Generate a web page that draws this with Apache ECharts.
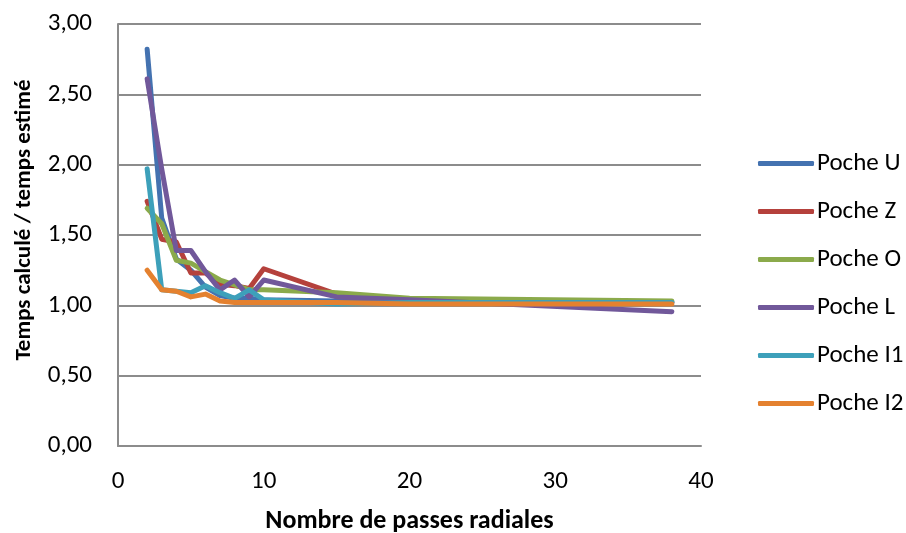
<!DOCTYPE html>
<html>
<head>
<meta charset="utf-8">
<script src="https://cdn.jsdelivr.net/npm/echarts@6/dist/echarts.min.js"></script>
<style>html,body{margin:0;padding:0;background:#fff}#c{width:906px;height:533px}</style>
</head>
<body>
<div id="c"></div>
<script>
const xValues = [2, 3, 4, 5, 6, 7, 8, 9, 10, 15, 20, 38];
const seriesNames = ['Poche U', 'Poche Z', 'Poche O', 'Poche L', 'Poche I1', 'Poche I2'];
const pocheU  = [2.82, 1.62, 1.33, 1.25, 1.13, 1.07, 1.05, 1.05, 1.04, 1.03, 1.03, 1.02];
const pocheZ  = [1.74, 1.47, 1.45, 1.23, 1.23, 1.15, 1.14, 1.12, 1.26, 1.08, 1.04, 1.02];
const pocheO  = [1.69, 1.58, 1.32, 1.30, 1.24, 1.18, 1.145, 1.11, 1.11, 1.09, 1.05, 1.03];
const pocheL  = [2.61, 1.97, 1.39, 1.39, 1.24, 1.11, 1.18, 1.06, 1.18, 1.06, 1.04, 0.955];
const pocheI1 = [1.97, 1.11, 1.10, 1.09, 1.14, 1.09, 1.05, 1.11, 1.04, 1.01, 1.02, 1.02];
const pocheI2 = [1.25, 1.11, 1.10, 1.06, 1.08, 1.03, 1.02, 1.02, 1.02, 1.02, 1.01, 1.01];
const allValues = [pocheU, pocheZ, pocheO, pocheL, pocheI1, pocheI2];
const colors = ['#4472B0', '#B5413C', '#8BAA4B', '#71589A', '#3DA0BA', '#E4812F'];

const font = 'Carlito, Calibri, Lato, "Open Sans", sans-serif';
const chart = echarts.init(document.getElementById('c'), null, {renderer: 'canvas'});
chart.setOption({
  animation: false,
  grid: {left: 118, right: 205, top: 24, bottom: 87, containLabel: false, outerBoundsMode: 'none'},
  legend: {
    orient: 'vertical', left: 753, top: 146,
    itemWidth: 56, itemHeight: 5, itemGap: 23, icon: 'roundRect',
    textStyle: {fontFamily: font, fontSize: 25, color: '#000', padding: [0,0,0,-2], lineHeight: 24},
    data: seriesNames
  },
  xAxis: {
    type: 'value', min: 0, max: 40, interval: 10,
    name: 'Nombre de passes radiales', nameLocation: 'middle', nameGap: 62,
    nameTextStyle: {fontFamily: font, fontSize: 26, fontWeight: 'bold', color: '#000'},
    axisLine: {show: true, lineStyle: {color: '#8C8C8C', width: 2}},
    axisTick: {show: false},
    axisLabel: {fontFamily: font, fontSize: 25, color: '#000', margin: 23},
    splitLine: {show: false}
  },
  yAxis: {
    type: 'value', min: 0, max: 3, interval: 0.5,
    name: 'Temps calculé / temps estimé', nameLocation: 'middle', nameGap: 82,
    nameTextStyle: {fontFamily: font, fontSize: 23, fontWeight: 'bold', color: '#000', padding: [0, 0, 0, 30]},
    axisLine: {show: true, lineStyle: {color: '#8C8C8C', width: 2}},
    axisTick: {show: false},
    axisLabel: {fontFamily: font, fontSize: 25, color: '#000', margin: 26,
      formatter: v => v.toFixed(2).replace('.', ',')},
    splitLine: {show: true, lineStyle: {color: '#8C8C8C', width: 2}}
  },
  series: seriesNames.map((n, i) => ({
    name: n, type: 'line', symbol: 'none', color: colors[i],
    lineStyle: {width: 5, color: colors[i], cap: 'round', join: 'round'},
    data: xValues.map((x, j) => [x, allValues[i][j]])
  }))
});
</script>
</body>
</html>
